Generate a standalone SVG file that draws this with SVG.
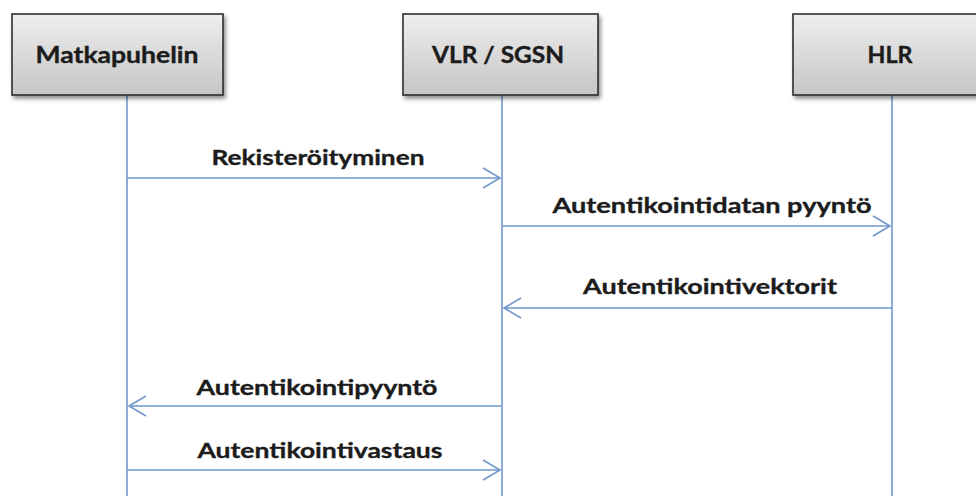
<svg xmlns="http://www.w3.org/2000/svg" width="976" height="496" viewBox="0 0 976 496">
  <defs>
    <linearGradient id="boxFill" x1="0" y1="0" x2="0" y2="1">
      <stop offset="0" stop-color="#eeeeee"/>
      <stop offset="1" stop-color="#c6c6c6"/>
    </linearGradient>
    <filter id="shadow" x="-10%" y="-10%" width="130%" height="140%">
      <feGaussianBlur in="SourceAlpha" stdDeviation="2"/>
      <feOffset dx="2" dy="3" result="blur"/>
      <feComponentTransfer><feFuncA type="linear" slope="0.45"/></feComponentTransfer>
      <feMerge><feMergeNode/><feMergeNode in="SourceGraphic"/></feMerge>
    </filter>
    <marker id="open" markerWidth="20" markerHeight="24" refX="18" refY="11" orient="auto" markerUnits="userSpaceOnUse">
      <path d="M1,1 L18,11 L1,21" fill="none" stroke="#7197cc" stroke-width="1.6"/>
    </marker>
  </defs>
  <style>
    .box { fill: url(#boxFill); stroke: #2e2e2e; stroke-width: 1.6; filter: url(#shadow); }
    .title { font-family: Lato, "Liberation Sans", sans-serif; font-weight: bold; font-size: 23px; fill: #1c1c1c; stroke: #1c1c1c; stroke-width: 0.4; text-anchor: middle; }
    .label { font-family: Lato, "Liberation Sans", sans-serif; font-weight: bold; font-size: 21.5px; fill: #1c1c1c; stroke: #1c1c1c; stroke-width: 0.35; text-anchor: middle; }
    .life { stroke: #7197cc; stroke-width: 1.6; fill: none; }
    .msg { stroke: #7197cc; stroke-width: 1.6; fill: none; marker-end: url(#open); }
  </style>

  <rect width="976" height="496" fill="#ffffff"/>

  <!-- lifelines -->
  <g id="lifelines">
    <line class="life" x1="127" y1="95" x2="127" y2="496"/>
    <line class="life" x1="502" y1="95" x2="502" y2="496"/>
    <line class="life" x1="892" y1="95" x2="892" y2="496"/>
  </g>

  <!-- participants -->
  <g id="matkapuhelin">
    <rect class="box" x="12" y="14" width="211" height="81"/>
    <text class="title" x="117" y="63" textLength="163" lengthAdjust="spacingAndGlyphs">Matkapuhelin</text>
  </g>
  <g id="vlr-sgsn">
    <rect class="box" x="403" y="14" width="195" height="81"/>
    <text class="title" x="498" y="63" textLength="132" lengthAdjust="spacingAndGlyphs">VLR / SGSN</text>
  </g>
  <g id="hlr">
    <rect class="box" x="793" y="14" width="196" height="81"/>
    <text class="title" x="890" y="63" textLength="45" lengthAdjust="spacingAndGlyphs">HLR</text>
  </g>

  <!-- messages -->
  <g id="connectors">
    <line class="msg" x1="127" y1="178" x2="500" y2="178"/>
    <line class="msg" x1="502" y1="226" x2="890" y2="226"/>
    <line class="msg" x1="892" y1="308" x2="504" y2="308"/>
    <line class="msg" x1="502" y1="406" x2="129" y2="406"/>
    <line class="msg" x1="127" y1="470" x2="500" y2="470"/>
  </g>

  <g id="labels">
    <text class="label" x="318" y="165" textLength="213" lengthAdjust="spacingAndGlyphs">Rekisteröityminen</text>
    <text class="label" x="712" y="213" textLength="319" lengthAdjust="spacingAndGlyphs">Autentikointidatan pyyntö</text>
    <text class="label" x="710" y="294" textLength="254" lengthAdjust="spacingAndGlyphs">Autentikointivektorit</text>
    <text class="label" x="317" y="395" textLength="241" lengthAdjust="spacingAndGlyphs">Autentikointipyyntö</text>
    <text class="label" x="320" y="458" textLength="245" lengthAdjust="spacingAndGlyphs">Autentikointivastaus</text>
  </g>
</svg>
